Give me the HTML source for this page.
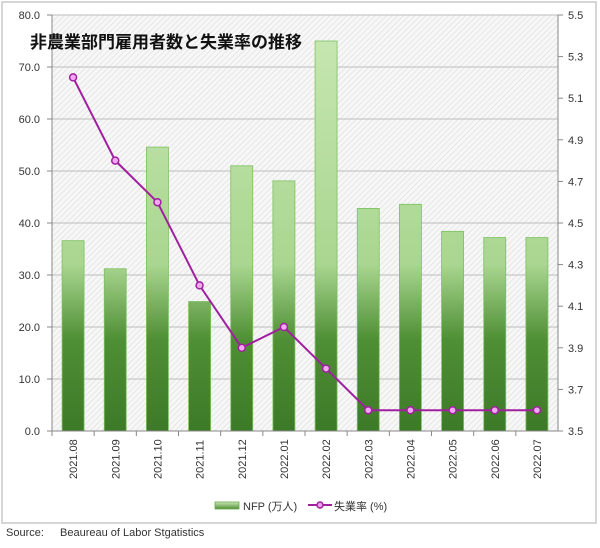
<!DOCTYPE html>
<html><head><meta charset="utf-8"><style>
body{margin:0;background:#fff;width:600px;height:543px;overflow:hidden;font-family:"Liberation Sans","Noto Sans CJK JP",sans-serif}
</style></head><body>
<svg id="c" width="600" height="543" xmlns="http://www.w3.org/2000/svg">
<defs>
<pattern id="hatch" width="4" height="4" patternUnits="userSpaceOnUse" patternTransform="rotate(45)">
<rect width="4" height="4" fill="#f7f7f7"/><line x1="0" y1="0" x2="0" y2="4" stroke="#dcdcdc" stroke-width="1.2"/></pattern>
<linearGradient id="bg" gradientUnits="userSpaceOnUse" x1="0" y1="15" x2="0" y2="431">
<stop offset="0" stop-color="#c9e8b4"/><stop offset="0.6" stop-color="#a9d690"/><stop offset="0.78" stop-color="#4f8f35"/><stop offset="1" stop-color="#3d7a28"/></linearGradient>
<linearGradient id="lg" x1="0" y1="0" x2="0" y2="1"><stop offset="0" stop-color="#c9e8b4"/><stop offset="1" stop-color="#4f8f35"/></linearGradient>
</defs>
<rect x="2" y="2" width="594" height="521" fill="#fff" stroke="#c8c8c8" stroke-width="1.5"/>
<rect x="52" y="15" width="506" height="416" fill="url(#hatch)"/>
<g id="grid"></g><g id="bars"></g><g id="axes"></g><g id="line"></g>
<text x="30" y="48" font-size="17" font-weight="bold" fill="#111">非農業部門雇用者数と失業率の推移</text>
<rect x="215" y="502" width="24" height="7" fill="url(#lg)" stroke="#6aa84f" stroke-width="0.8"/>
<text x="243" y="510" font-size="11" fill="#333">NFP (万人)</text>
<line x1="308" y1="505" x2="332" y2="505" stroke="#a020a0" stroke-width="2"/>
<circle cx="320" cy="505" r="3" fill="#f0a0f0" stroke="#a020a0" stroke-width="1.5"/>
<text x="334" y="510" font-size="11" fill="#333">失業率 (%)</text>
<text x="6" y="536" font-size="11" fill="#333">Source:</text>
<text x="60" y="536" font-size="11" fill="#333">Beaureau of Labor Stgatistics</text>
</svg>
<script>
const categories=["2021.08","2021.09","2021.10","2021.11","2021.12","2022.01","2022.02","2022.03","2022.04","2022.05","2022.06","2022.07"];
const nfp=[36.6,31.2,54.6,24.9,51.0,48.1,75.0,42.8,43.6,38.4,37.2,37.2];
const rate=[5.2,4.8,4.6,4.2,3.9,4.0,3.8,3.6,3.6,3.6,3.6,3.6];
const leftTicks=[0,10,20,30,40,50,60,70,80];
const rightTicks=[3.5,3.7,3.9,4.1,4.3,4.5,4.7,4.9,5.1,5.3,5.5];
const X0=52,X1=558,Y0=431,Y1=15,NS="http://www.w3.org/2000/svg";
const bw=(X1-X0)/categories.length;
const xc=i=>X0+bw*(i+0.5);
const yl=v=>Y0-(v-0)/(80-0)*(Y0-Y1);
const yr=v=>Y0-(v-3.5)/(5.5-3.5)*(Y0-Y1);
function mk(t,a,p){const e=document.createElementNS(NS,t);for(const k in a)e.setAttribute(k,a[k]);p.appendChild(e);return e;}
const G=document.getElementById('grid'),B=document.getElementById('bars'),A=document.getElementById('axes'),L=document.getElementById('line');
leftTicks.forEach(v=>{const y=yl(v);
 const g=mk('line',{x1:X0,x2:X1,y1:y,y2:y,stroke:'#bdbdbd','stroke-width':1},G);
 
 
 mk('line',{x1:X0-5,x2:X0,y1:y,y2:y,stroke:'#888'},A);
 const t=mk('text',{x:X0-12,y:y+4,'text-anchor':'end','font-size':11,fill:'#333'},A);t.textContent=v.toFixed(1);
 
 });
rightTicks.forEach(v=>{const y=yr(v);
 mk('line',{x1:X1,x2:X1+5,y1:y,y2:y,stroke:'#888'},A);
 const t=mk('text',{x:X1+10,y:y+4,'font-size':11,fill:'#333'},A);t.textContent=v.toFixed(1);
 
 });
mk('line',{x1:X0,x2:X0,y1:Y1,y2:Y0,stroke:'#888'},A);
mk('line',{x1:X1,x2:X1,y1:Y1,y2:Y0,stroke:'#888'},A);
mk('line',{x1:X0,x2:X1,y1:Y0,y2:Y0,stroke:'#888'},A);
categories.forEach((c,i)=>{
 mk('line',{x1:X0+bw*i,x2:X0+bw*i,y1:Y0,y2:Y0+5,stroke:'#888'},A);
 const t=mk('text',{transform:`translate(${xc(i)+4},${Y0+48}) rotate(-90)`,'font-size':11,fill:'#333'},A);t.textContent=c;
 
 
 const y=yl(nfp[i]);
 const r=mk('rect',{x:xc(i)-11,y:y,width:22,height:Y0-y,fill:'url(#bg)',stroke:'#7cc060','stroke-width':0.8},B);
 
 
});
const pl=mk('polyline',{points:rate.map((v,i)=>xc(i)+','+yr(v)).join(' '),fill:'none',stroke:'#a020a0','stroke-width':2},L);


rate.forEach((v,i)=>{const p=mk('circle',{cx:xc(i),cy:yr(v),r:3.5,fill:'#f4a8f4',stroke:'#a020a0','stroke-width':1.5},L);
 
 });
</script>
</body></html>
